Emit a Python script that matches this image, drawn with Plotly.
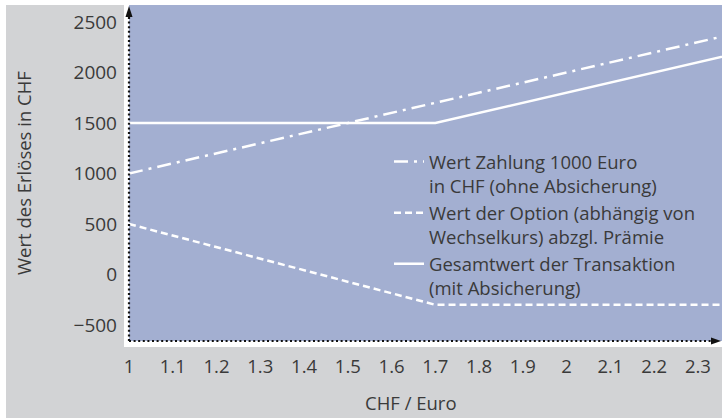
import plotly.graph_objects as go

# ---- data ----
kurs = [1.0, 1.7, 2.4]                       # CHF / Euro
wert_ohne = [1000, 1700, 2400]               # Wert Zahlung 1000 Euro in CHF (ohne Absicherung)
wert_option = [500, -300, -300]              # Wert der Option abzgl. Prämie
gesamt = [1500, 1500, 2200]                  # Gesamtwert der Transaktion (mit Absicherung)

x_ticks = [1.0, 1.1, 1.2, 1.3, 1.4, 1.5, 1.6, 1.7, 1.8, 1.9, 2.0, 2.1, 2.2, 2.3]
x_ticktext = ["1", "1.1", "1.2", "1.3", "1.4", "1.5", "1.6", "1.7", "1.8", "1.9", "2", "2.1", "2.2", "2.3"]
y_ticks = [-500, 0, 500, 1000, 1500, 2000, 2500]

names = [
    "Wert Zahlung 1000 Euro<br>in CHF (ohne Absicherung)",
    "Wert der Option (abhängig von<br>Wechselkurs) abzgl. Prämie",
    "Gesamtwert der Transaktion<br>(mit Absicherung)",
]

FONT = "Open Sans"
TXT = "#3a3a3a"
GRAY = "#d2d3d5"
BLUE = "#a3afd1"

fig = go.Figure()
fig.add_trace(go.Scatter(x=kurs, y=wert_ohne, mode="lines", name=names[0],
                         line=dict(color="white", width=2.5, dash="14px,6px,3px,6px")))
fig.add_trace(go.Scatter(x=kurs, y=wert_option, mode="lines", name=names[1],
                         line=dict(color="white", width=2.5, dash="7px,4px")))
fig.add_trace(go.Scatter(x=kurs, y=gesamt, mode="lines", name=names[2],
                         line=dict(color="white", width=2.5)))

W, H = 722, 418
L, R, T, B = 129, 0, 5, 77
pw, ph = W - L - R, H - T - B

def px_x(px):
    return (px - L) / pw

def px_y(py):
    return (H - B - py) / ph

shapes = [
    # gray panel
    dict(type="rect", xref="paper", yref="paper", x0=px_x(6), x1=px_x(W), y0=px_y(H), y1=px_y(T),
         fillcolor=GRAY, line=dict(width=0), layer="below"),
    # white border strip
    dict(type="rect", xref="paper", yref="paper", x0=px_x(124), x1=1, y0=px_y(347), y1=1,
         fillcolor="white", line=dict(width=0), layer="below"),
    # blue plot area
    dict(type="rect", xref="paper", yref="paper", x0=0, x1=1, y0=0, y1=1,
         fillcolor=BLUE, line=dict(width=0), layer="below"),
    # dotted axes
    dict(type="line", xref="paper", yref="paper", x0=0, x1=0, y0=0, y1=px_y(14),
         line=dict(color="#111111", width=2.2, dash="2px,2.6px"), layer="above"),
    dict(type="line", xref="paper", yref="paper", x0=0, x1=px_x(713), y0=0, y1=0,
         line=dict(color="#111111", width=2.2, dash="2px,2.6px"), layer="above"),
    # arrowheads
    dict(type="path", xref="paper", yref="paper", xsizemode="pixel", ysizemode="pixel",
         xanchor=0, yanchor=1, path="M -3.5,-12 L 3.5,-12 L 0,-1 Z",
         fillcolor="#111111", line=dict(width=0), layer="above"),
    dict(type="path", xref="paper", yref="paper", xsizemode="pixel", ysizemode="pixel",
         xanchor=1, yanchor=0, path="M -11,-3.5 L -11,3.5 L -1,0 Z",
         fillcolor="#111111", line=dict(width=0), layer="above"),
]

annotations = [
    dict(text="CHF / Euro", xref="paper", yref="paper", x=px_x(410.5), y=px_y(402),
         xanchor="center", yanchor="middle", showarrow=False,
         font=dict(family=FONT, size=18.5, color=TXT)),
    dict(text="Wert des Erlöses in CHF", xref="paper", yref="paper", x=px_x(23), y=0.5,
         xanchor="center", yanchor="middle", showarrow=False, textangle=-90,
         font=dict(family=FONT, size=18.5, color=TXT)),
]

fig.update_layout(
    width=W, height=H, autosize=False,
    margin=dict(l=L, r=R, t=T, b=B, pad=0),
    paper_bgcolor="white", plot_bgcolor="rgba(0,0,0,0)",
    font=dict(family=FONT, size=18.5, color=TXT),
    showlegend=True,
    legend=dict(x=px_x(389), y=px_y(143), xanchor="left", yanchor="top",
                bgcolor="rgba(0,0,0,0)", borderwidth=0, valign="top",
                tracegroupgap=0, font=dict(family=FONT, size=18.5, color=TXT)),
    shapes=shapes,
    annotations=annotations,
    xaxis=dict(range=[1.0, 2.355], tickvals=x_ticks, ticktext=x_ticktext,
               showgrid=False, zeroline=False, showline=False, ticks="",
               ticklabelstandoff=12, tickfont=dict(family=FONT, size=18.5, color=TXT),
               fixedrange=True),
    yaxis=dict(range=[-658, 2668], tickvals=y_ticks,
               showgrid=False, zeroline=False, showline=False, ticks="",
               ticklabelstandoff=11, tickfont=dict(family=FONT, size=19, color=TXT),
               fixedrange=True),
)

fig.write_html(
    "out.html",
    config={"displayModeBar": False},
    post_script="document.body.style.margin='0';document.body.style.overflow='hidden';",
)
